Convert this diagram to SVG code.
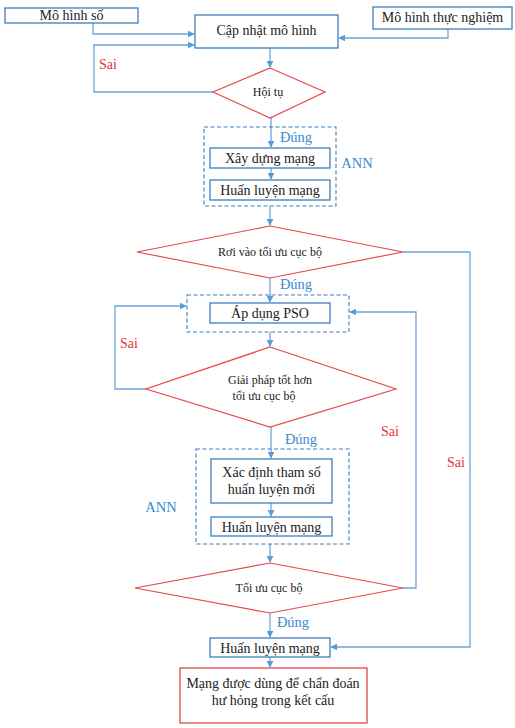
<svg xmlns="http://www.w3.org/2000/svg" width="515" height="728" viewBox="0 0 515 728">
<defs>
<marker id="ah" viewBox="0 0 10 10" refX="9" refY="5" markerWidth="7" markerHeight="7" markerUnits="userSpaceOnUse" orient="auto">
<path d="M0,0 L10,5 L0,10 z" fill="#5b9bd5"/>
</marker>
<style>
.box{fill:#fff;stroke:#3d7fbf;stroke-width:1.3}
.rbox{fill:#fff;stroke:#e0474c;stroke-width:1.3}
.dia{fill:#fff;stroke:#e8474c;stroke-width:1.2}
.dash{fill:none;stroke:#3d7fbf;stroke-width:1.1;stroke-dasharray:4,2.5}
.c{fill:none;stroke:#6fa5dc;stroke-width:1.3}
.a{marker-end:url(#ah)}
text{font-family:"Liberation Serif","DejaVu Serif",serif;fill:#222;text-anchor:middle}
.t{font-size:14px}
.s{font-size:12px}
.blue{fill:#3a8bd0;font-size:14.5px}
.red{fill:#e8303a;font-size:14px}
</style>
</defs>
<rect width="515" height="728" fill="#fff"/>

<g id="connectors">
<path class="c a" d="M93,23 V34 H194"/>
<path class="c a" d="M213,92 H94 V45 H194"/>
<path class="c a" d="M448,29 V38 H339"/>
<path class="c a" d="M270,48 V67"/>
<path class="c a" d="M271,118 V147"/>
<path class="c a" d="M271,168 V179"/>
<path class="c a" d="M270,206 V225"/>
<path class="c a" d="M270,278 V302"/>
<path class="c a" d="M270,332 V346"/>
<path class="c a" d="M146,389 H115 V306 H186"/>
<path class="c a" d="M271,427 V458"/>
<path class="c a" d="M271,503 V516"/>
<path class="c a" d="M270,544 V562"/>
<path class="c a" d="M403,588 H416 V312 H350"/>
<path class="c a" d="M270,613 V637"/>
<path class="c a" d="M403,252 H470 V647 H331"/>
<path class="c a" d="M270,657 V667"/>
</g>

<g id="n-mohinhso"><rect class="box" x="5" y="8" width="133" height="15"/><text class="t" x="71.5" y="20">Mô hình số</text></g>
<g id="n-capnhat"><rect class="box" x="195" y="15" width="143" height="33"/><text class="t" x="266.5" y="35">Cập nhật mô hình</text></g>
<g id="n-thucnghiem"><rect class="box" x="373" y="7" width="139" height="22"/><text class="t" x="442.5" y="22">Mô hình thực nghiệm</text></g>
<g id="n-hoitu"><polygon class="dia" points="270,68 325,92 270,118 213,92"/><text class="s" x="268" y="96">Hội tụ</text></g>

<g id="g-ann1"><rect class="dash" x="204" y="127" width="132" height="79"/><text class="blue" x="357" y="168">ANN</text></g>
<g id="n-xaydung"><rect class="box" x="210" y="148" width="120" height="20"/><text class="t" x="270" y="162.5">Xây dựng mạng</text></g>
<g id="n-huanluyen1"><rect class="box" x="210" y="180" width="120" height="20"/><text class="t" x="270" y="195">Huấn luyện mạng</text></g>

<g id="n-roivao"><polygon class="dia" points="270,226 403,252 270,278 137,252"/><text class="s" x="270" y="256">Rơi vào tối ưu cục bộ</text></g>

<g id="g-pso"><rect class="dash" x="187" y="295" width="162" height="37"/></g>
<g id="n-pso"><rect class="box" x="210" y="303" width="120" height="20"/><text class="t" x="270" y="318">Áp dụng PSO</text></g>

<g id="n-giaiphap"><polygon class="dia" points="270,347 396,389 270,427 146,389"/><text class="s" x="270" y="384">Giải pháp tốt hơn</text><text class="s" x="264" y="400">tối ưu cục bộ</text></g>

<g id="g-ann2"><rect class="dash" x="196" y="449" width="153" height="95"/><text class="blue" x="161" y="512">ANN</text></g>
<g id="n-xacdinh"><rect class="box" x="211" y="459" width="121" height="44"/><text class="t" x="271.5" y="477">Xác định tham số</text><text class="t" x="271.5" y="494">huấn luyện mới</text></g>
<g id="n-huanluyen2"><rect class="box" x="211" y="517" width="121" height="19"/><text class="t" x="271.5" y="531.5">Huấn luyện mạng</text></g>

<g id="n-toiuu"><polygon class="dia" points="270,563 403,588 270,613 135,588"/><text class="s" x="269" y="592">Tối ưu cục bộ</text></g>

<g id="n-huanluyen3"><rect class="box" x="210" y="638" width="120" height="19"/><text class="t" x="270" y="652.5">Huấn luyện mạng</text></g>
<g id="n-final"><rect class="rbox" x="180" y="668" width="187" height="55"/><text class="t" x="273" y="688">Mạng được dùng để chẩn đoán</text><text class="t" x="273" y="705">hư hỏng trong kết cấu</text></g>

<g id="labels">
<text class="red" x="108" y="69">Sai</text>
<text class="blue" x="296" y="142">Đúng</text>
<text class="blue" x="296" y="289">Đúng</text>
<text class="red" x="129" y="348">Sai</text>
<text class="red" x="390" y="436">Sai</text>
<text class="blue" x="301" y="444">Đúng</text>
<text class="red" x="456" y="467">Sai</text>
<text class="blue" x="293" y="627">Đúng</text>
</g>
</svg>
